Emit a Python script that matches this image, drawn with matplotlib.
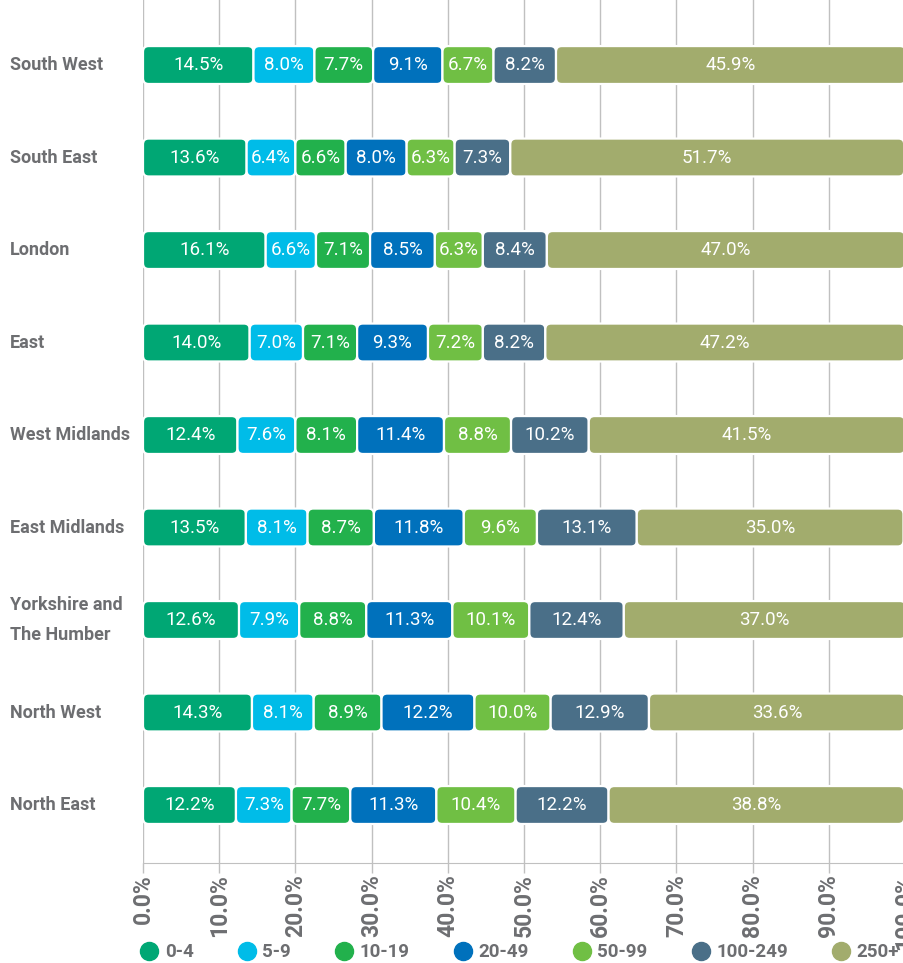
import matplotlib.pyplot as plt
import numpy as np
from matplotlib.patches import FancyBboxPatch
from matplotlib.lines import Line2D

regions = ["South West", "South East", "London", "East", "West Midlands",
           "East Midlands", "Yorkshire and\nThe Humber", "North West", "North East"]
bands = ["0-4", "5-9", "10-19", "20-49", "50-99", "100-249", "250+"]
colors = ["#00a774", "#00bce8", "#22b14c", "#0071bc", "#70bf44", "#4a6f88", "#a2ac6d"]

# one row per region, one column per size band (% of firms)
shares = np.array([
    [14.5, 8.0, 7.7, 9.1, 6.7, 8.2, 45.9],
    [13.6, 6.4, 6.6, 8.0, 6.3, 7.3, 51.7],
    [16.1, 6.6, 7.1, 8.5, 6.3, 8.4, 47.0],
    [14.0, 7.0, 7.1, 9.3, 7.2, 8.2, 47.2],
    [12.4, 7.6, 8.1, 11.4, 8.8, 10.2, 41.5],
    [13.5, 8.1, 8.7, 11.8, 9.6, 13.1, 35.0],
    [12.6, 7.9, 8.8, 11.3, 10.1, 12.4, 37.0],
    [14.3, 8.1, 8.9, 12.2, 10.0, 12.9, 33.6],
    [12.2, 7.3, 7.7, 11.3, 10.4, 12.2, 38.8],
])
ticks = np.arange(0, 101, 10)

grey = "#6d6e71"
font = ["Roboto", "DejaVu Sans"]

fig = plt.figure(figsize=(9.04, 9.63), dpi=100)
ax = fig.add_axes([143 / 904, 100 / 963, 762 / 904, 863 / 963])

bar_h = 0.41
# px per data unit: x 7.62, y 92.5 -> keep corners round
aspect = 7.62 / 92.5
for i, row in enumerate(shares):
    lefts = np.concatenate([[0], np.cumsum(row)[:-1]])
    for j, (l, w) in enumerate(zip(lefts, row)):
        p = FancyBboxPatch((l, i - bar_h / 2), w, bar_h,
                           boxstyle="round,pad=0,rounding_size=0.75",
                           mutation_aspect=aspect,
                           facecolor=colors[j], edgecolor="white", linewidth=1.6,
                           zorder=3)
        ax.add_patch(p)
        ax.text(l + w / 2, i, f"{w:.1f}%", ha="center", va="center",
                color="white", fontsize=13.5, family=font, zorder=4)

ax.set_xlim(0, 100)
ax.set_ylim(8.627, -0.703)
ax.set_xticks(ticks)
ax.set_xticklabels([f"{t:.1f}%" for t in ticks], rotation=90, fontsize=16.5,
                   fontweight="bold", color=grey, family=font)
ax.tick_params(axis="x", length=7, width=1, color="#c0c0c0", pad=1)
ax.set_yticks([])
ax.grid(axis="x", color="#c0c0c0", linewidth=1, zorder=0)
for s in ["top", "right", "left"]:
    ax.spines[s].set_visible(False)
ax.spines["bottom"].set_color("#c0c0c0")

for i, name in enumerate(regions):
    ax.text(-0.175, i, name, transform=ax.get_yaxis_transform(),
            ha="left", va="center", fontsize=13, fontweight="bold",
            color=grey, family=font, linespacing=1.8)

handles = [Line2D([], [], marker="o", linestyle="", markersize=13,
                  markerfacecolor=c, markeredgecolor=c) for c in colors]
leg = fig.legend(handles, bands, loc="center left", bbox_to_anchor=(0.157, 0.011),
                 ncol=7, frameon=False, handlelength=0.8, handletextpad=0.43,
                 columnspacing=2.43, borderaxespad=0, borderpad=0,
                 prop={"family": font, "weight": "bold", "size": 13.5})
for t in leg.get_texts():
    t.set_color(grey)

fig.savefig("out.png", dpi=100)
